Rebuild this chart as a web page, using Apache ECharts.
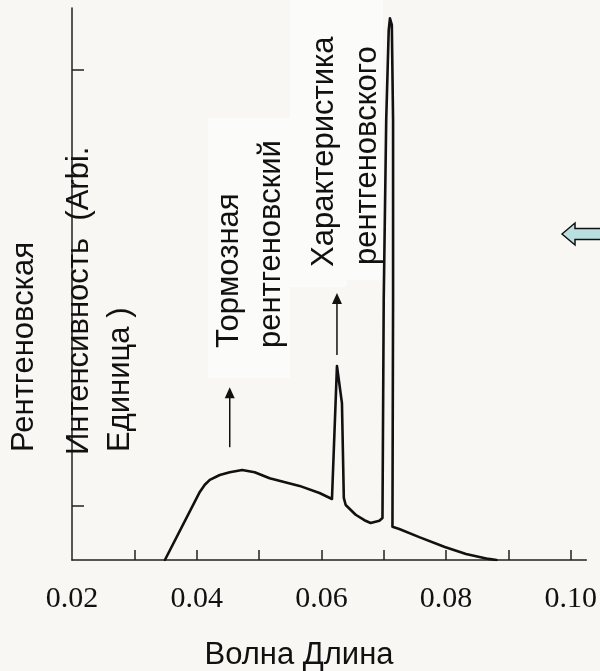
<!DOCTYPE html>
<html>
<head>
<meta charset="utf-8">
<script src="https://cdn.jsdelivr.net/npm/echarts@6/dist/echarts.min.js"></script>
<style>
html,body{margin:0;padding:0;background:#f8f7f3;}
#chart{width:600px;height:671px;}
</style>
</head>
<body>
<div id="chart"></div>
<script>
// Wavelength (as on the axis) and relative X-ray intensity (arbitrary units)
const wavelength = [0.0349,0.0405,0.0413,0.0421,0.0437,0.0453,0.0473,0.0493,0.0517,0.0565,0.0597,0.0617,0.0625,0.0633,0.0636,0.0639,0.0655,0.0669,0.0679,0.0693,0.0698,0.0700,0.0704,0.0708,0.0710,0.0713,0.0715,0.0715,0.0714,0.0725,0.0757,0.0798,0.0832,0.0868,0.0881];
const intensity  = [0,1.25,1.38,1.47,1.56,1.61,1.65,1.61,1.50,1.36,1.23,1.12,3.56,2.88,1.14,1.01,0.83,0.73,0.68,0.72,0.77,4.77,8.07,9.72,9.94,9.82,8.07,4.77,0.61,0.57,0.42,0.24,0.11,0.02,0];
const xLabelValues = [0.02,0.04,0.06,0.08,0.10];
const xTickValues = [0.03,0.04,0.05,0.06,0.07,0.08,0.09,0.10];
const yTickValues = [1,9];
const yNameLines = ['Рентгеновская','Интенсивность  (Arbi.','Единица )'];
const xName = 'Волна Длина';
const noteBrems = ['Тормозная','рентгеновский'];
const noteChar = ['Характеристика','рентгеновского'];
// annotation arrows: x position, tail y, head y (data units)
const arrowX = [0.0453,0.0625];
const arrowFrom = [2.07,3.76];
const arrowTo = [3.17,4.90];

const chart = echarts.init(document.getElementById('chart'), null, {renderer:'canvas'});
const sans = '"Liberation Sans", Arial, sans-serif';
const serif = '"Liberation Serif", "Times New Roman", serif';

const option = {
  backgroundColor:'#f8f7f3',
  animation:false,
  grid:{left:72,right:12,top:8,bottom:111},
  xAxis:{
    type:'value',min:0.02,max:0.1025,interval:0.01,
    splitLine:{show:false},
    axisLine:{show:true,lineStyle:{color:'#222',width:1.5}},
    axisTick:{show:true,inside:true,length:10,customValues:xTickValues,lineStyle:{color:'#222',width:1.5}},
    axisLabel:{show:true,customValues:xLabelValues,margin:24,fontFamily:serif,fontSize:30,color:'#111',
      formatter:v=>v.toFixed(2)}
  },
  yAxis:{
    type:'value',min:0,max:10.13,
    splitLine:{show:false},
    axisLine:{show:true,lineStyle:{color:'#222',width:1.5}},
    axisTick:{show:true,inside:true,length:12,customValues:yTickValues,lineStyle:{color:'#222',width:1.5}},
    axisLabel:{show:false}
  },
  series:[{
    type:'line',
    data:wavelength.map((w,i)=>[w,intensity[i]]),
    showSymbol:false,smooth:false,
    lineStyle:{color:'#111',width:2.6,join:'round',cap:'round'},
    z:3
  }]
};
chart.setOption(option);

function rotText(text,x,y){
  return {type:'text',x:x,y:y,rotation:Math.PI/2,z:10,
    style:{text:text,fontFamily:sans,fontSize:31,fill:'#111',align:'left',verticalAlign:'middle'}};
}
const g = [];
// faint white note boxes
const boxFill = '#fbfbf9';
g.push({type:'rect',shape:{x:208,y:118,width:82,height:260},style:{fill:boxFill},z:1});
g.push({type:'rect',shape:{x:290,y:0,width:57,height:287},style:{fill:boxFill},z:1});
g.push({type:'rect',shape:{x:347,y:0,width:36,height:280},style:{fill:boxFill},z:1});
// y axis name
g.push(rotText(yNameLines[0],24.5,452));
g.push(rotText(yNameLines[1],79,455));
g.push(rotText(yNameLines[2],120,452));
// notes
g.push(rotText(noteBrems[0],229.5,348));
g.push(rotText(noteBrems[1],271.5,348));
g.push(rotText(noteChar[0],324.5,267));
g.push(rotText(noteChar[1],367,265));
// x axis name
g.push({type:'text',x:299,y:655,z:10,style:{text:xName,fontFamily:sans,fontSize:31,fill:'#111',align:'center',verticalAlign:'middle'}});
// arrows from data coords
for(let i=0;i<arrowX.length;i++){
  const p0 = chart.convertToPixel({gridIndex:0},[arrowX[i],arrowFrom[i]]);
  const p1 = chart.convertToPixel({gridIndex:0},[arrowX[i],arrowTo[i]]);
  g.push({type:'line',shape:{x1:p0[0],y1:p0[1],x2:p1[0],y2:p1[1]+8},style:{stroke:'#111',lineWidth:1.5},z:10});
  g.push({type:'polygon',shape:{points:[[p1[0],p1[1]],[p1[0]-5,p1[1]+11],[p1[0]+5,p1[1]+11]]},style:{fill:'#111'},z:10});
}
// light blue arrow at right
g.push({type:'polygon',z:10,shape:{points:[[562,234],[575,223],[575,228.5],[602,228.5],[602,239.5],[575,239.5],[575,245]]},
  style:{fill:'#b9dfe1',stroke:'#111',lineWidth:1.5}});
chart.setOption({graphic:g});
</script>
</body>
</html>
